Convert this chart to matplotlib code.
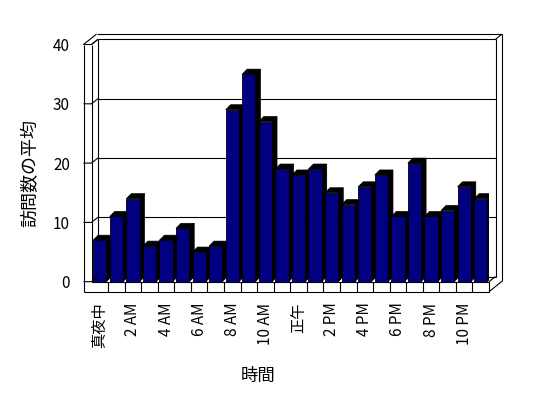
import matplotlib.pyplot as plt
from matplotlib.patches import Polygon, Rectangle

plt.rcParams['font.family'] = ['Noto Sans CJK JP', 'DejaVu Sans']

hours = ['真夜中', '1 AM', '2 AM', '3 AM', '4 AM', '5 AM', '6 AM', '7 AM',
         '8 AM', '9 AM', '10 AM', '11 AM', '正午', '1 PM', '2 PM', '3 PM',
         '4 PM', '5 PM', '6 PM', '7 PM', '8 PM', '9 PM', '10 PM', '11 PM']
visits = [7, 11, 14, 6, 7, 9, 5, 6, 29, 35, 27, 19,
          18, 19, 15, 13, 16, 18, 11, 20, 11, 12, 16, 14]
yticks = [0, 10, 20, 30, 40]

W, H = 548, 398
fig = plt.figure(figsize=(W / 100, H / 100), dpi=100)
# the axes is the front plane of the excel-like 3d box
ax = fig.add_axes([91.5 / W, 116.3 / H, 397.5 / W, 237.2 / H])
n = len(visits)
x0, x1 = -0.5, n - 0.5
ymax = yticks[-1]
ax.set_xlim(x0, x1)
ax.set_ylim(0, ymax)
px = (x1 - x0) / 397.5   # data units per pixel
py = ymax / 237.2

wx, wy = 6.5, 5.2   # depth of back wall (px)
bx, by = 5.0, 5.0   # depth of bars (px)
t, f = 8, 10        # left wall / floor thickness (px)


def seg(*pts, z=1):
    # pts: (x, y, dx_px, dy_px)
    xs = [p[0] + p[2] * px for p in pts]
    ys = [p[1] + p[3] * py for p in pts]
    ax.plot(xs, ys, color='k', lw=0.8, clip_on=False, zorder=z,
            solid_capstyle='butt')


# back wall + gridlines
for v in yticks:
    seg((x0, v, wx, wy), (x1, v, wx, wy))
seg((x0, 0, wx, wy), (x0, ymax, wx, wy))
seg((x1, 0, wx, wy), (x1, ymax, wx, wy))
seg((x1, ymax, wx, wy), (x1, ymax, 2 * wx, 2 * wy))
seg((x1, 0, 2 * wx, 2 * wy - f), (x1, ymax, 2 * wx, 2 * wy))
seg((x0, ymax, 2 * wx - t, 2 * wy), (x1, ymax, 2 * wx, 2 * wy))

# bars: black side and top, navy front
dx, dy = bx * px, by * py
for i, v in enumerate(visits):
    l, r = i - 0.4, i + 0.4
    side = Polygon([(r, 0), (r, v), (r + dx, v + dy), (r + dx, dy)],
                   closed=True, fc='black', ec='black', lw=0.5, zorder=3)
    top = Polygon([(l, v), (r, v), (r + dx, v + dy), (l + dx, v + dy)],
                  closed=True, fc='black', ec='black', lw=0.5, zorder=3)
    ax.add_patch(side)
    ax.add_patch(top)
ax.bar(range(n), visits, width=0.8, color='#000080', edgecolor='black',
       linewidth=0.6, zorder=4)

# floor slab front + right side
ax.add_patch(Rectangle((x0, -f * py), x1 - x0, f * py, fc='white', ec='none',
                       clip_on=False, zorder=5))
seg((x0, 0, 0, 0), (x1, 0, 0, 0), z=6)
seg((x0, 0, -t, -f), (x1, 0, 0, -f), z=6)
seg((x1, 0, 0, 0), (x1, 0, 0, -f), z=6)
for k in range(n - 1):
    seg((k + 0.5, 0, 0, 0), (k + 0.5, 0, 0, -f), z=6)
seg((x1, 0, 0, 0), (x1, 0, wx, wy), z=6)
seg((x1, 0, 0, -f), (x1, 0, 2 * wx, 2 * wy - f), z=6)

# left wall front face + top
ax.add_patch(Rectangle((x0 - t * px, -f * py), t * px, ymax + f * py,
                       fc='white', ec='none', clip_on=False, zorder=5))
seg((x0, 0, -t, -f), (x0, ymax, -t, 0), z=6)
seg((x0, 0, 0, 0), (x0, ymax, 0, 0), z=6)
seg((x0, ymax, -t, 0), (x0, ymax, 2 * wx - t, 2 * wy), z=6)
seg((x0, ymax, 0, 0), (x0, ymax, wx, wy), z=6)
for v in yticks:
    seg((x0, v, -t, 0), (x0, v, 0, 0), (x0, v, wx, wy), z=6)

for s in ax.spines.values():
    s.set_visible(False)
ax.set_yticks(yticks)
ax.set_yticklabels([str(v) for v in yticks])
ax.set_xticks(range(0, n, 2))
ax.set_xticklabels(hours[::2], rotation=90, va='top', ha='center')
ax.tick_params(axis='y', length=0, pad=15.5, labelsize=11)
ax.tick_params(axis='x', length=0, pad=15, labelsize=11)

fig.text(30 / W, 1 - 173 / H, '訪問数の平均', rotation=90, ha='center',
         va='center', fontsize=13)
fig.text(258 / W, 1 - 376 / H, '時間', ha='center', va='center', fontsize=12.5)

fig.savefig('out.png', dpi=100, facecolor='white')
